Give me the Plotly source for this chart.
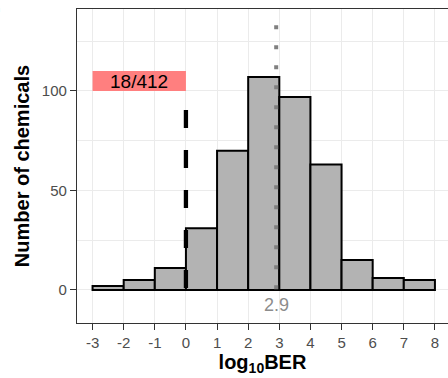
import plotly.graph_objects as go

bin_left = [-3, -2, -1, 0, 1, 2, 3, 4, 5, 6, 7]
counts = [2, 5, 11, 31, 70, 107, 97, 63, 15, 6, 5]
x_ticks = [-3, -2, -1, 0, 1, 2, 3, 4, 5, 6, 7, 8]
y_ticks = [0, 50, 100]
y_minor = [25, 75, 125]
threshold = 0
median_val = 2.9
label_text = "18/412"
median_text = "2.9"

centers = [b + 0.5 for b in bin_left]

fig = go.Figure()
fig.add_trace(go.Bar(
    x=centers, y=counts, width=1,
    marker=dict(color="#B3B3B3", line=dict(color="black", width=2)),
    hoverinfo="skip",
))

# dotted median line
fig.add_trace(go.Scatter(
    x=[median_val, median_val], y=[133, 0], mode="lines",
    line=dict(color="#808080", width=4, dash="4px,16px"), hoverinfo="skip",
))
# dashed threshold line
fig.add_trace(go.Scatter(
    x=[threshold, threshold], y=[90.5, 0], mode="lines",
    line=dict(color="black", width=4.3, dash="18px,22px"), hoverinfo="skip",
))

fig.add_shape(type="rect", x0=-3, x1=0, y0=100, y1=110,
              fillcolor="#FF7F7F", line=dict(width=0), layer="above")
fig.add_annotation(x=-1.5, y=105, text=label_text, showarrow=False,
                   font=dict(size=19, color="black", family="Liberation Sans, Arial"))
fig.add_annotation(x=median_val, y=-7.5, text=median_text, showarrow=False,
                   font=dict(size=18, color="#8C8C8C", family="Liberation Sans, Arial"))
fig.add_annotation(xref="paper", yref="paper", x=-77/371, y=1 + 2/314,
                   xanchor="right", yanchor="top", xshift=2, yshift=8,
                   text="<b>b)</b>", showarrow=False,
                   font=dict(size=14, color="black", family="Liberation Sans, Arial"))

axis_common = dict(
    showgrid=True, gridcolor="#EBEBEB", gridwidth=1.1,
    showline=True, linecolor="#333333", linewidth=1.3,
    ticks="outside", ticklen=6, tickwidth=1.2, tickcolor="#333333",
    tickfont=dict(size=15, color="#4D4D4D", family="Liberation Sans, Arial"),
    zeroline=False,
)

fig.update_layout(
    width=448, height=378,
    margin=dict(l=77, r=0, t=9, b=55),
    paper_bgcolor="white", plot_bgcolor="white",
    showlegend=False,
    font=dict(family="Liberation Sans, Arial"),
    xaxis=dict(
        range=[-3.5, 8.42], tickvals=x_ticks, ticktext=[str(v) for v in x_ticks],
        mirror=True,
        title=dict(text="<b>log<sub>10</sub>BER</b>", standoff=4,
                   font=dict(size=20, color="black")),
        **axis_common,
    ),
    yaxis=dict(
        range=[-16.6, 141.2], tickvals=y_ticks, ticktext=[str(v) for v in y_ticks],
        mirror=False,
        minor=dict(tickvals=y_minor, showgrid=True, gridcolor="#EBEBEB",
                   gridwidth=1.1, ticks=""),
        title=dict(text="<b>Number of chemicals</b>", standoff=6,
                   font=dict(size=20, color="black")),
        **axis_common,
    ),
)

fig.write_html("out.html")
